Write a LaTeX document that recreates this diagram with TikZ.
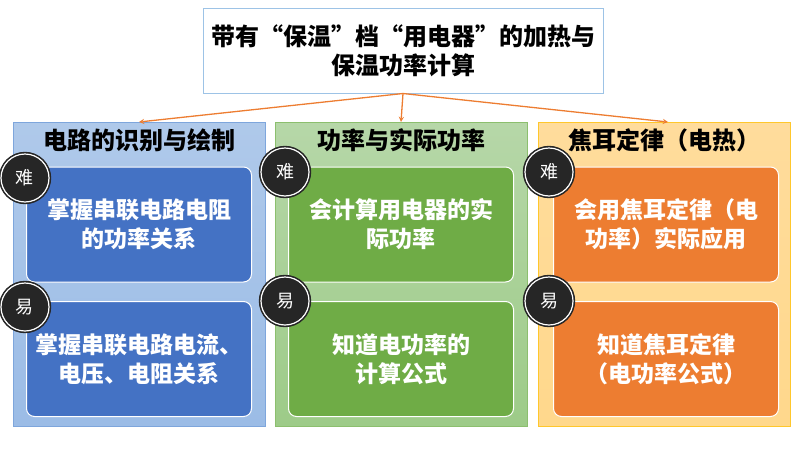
\documentclass[tikz,border=0pt]{standalone}
\usepackage{fontspec}
\setmainfont{Noto Sans CJK SC}
\usepackage{tikz}
\definecolor{arroworange}{HTML}{ED7D31}
\definecolor{topline}{HTML}{9DC3E6}
\definecolor{bluelight}{HTML}{AFC9EA}
\definecolor{bluelow}{HTML}{9BBCE6}
\definecolor{blueline}{HTML}{7EA6DC}
\definecolor{bluedark}{HTML}{4472C4}
\definecolor{greenlight}{HTML}{B6D7A8}
\definecolor{greenlow}{HTML}{9DCB88}
\definecolor{greenline}{HTML}{8CBF6E}
\definecolor{greendark}{HTML}{6FAC46}
\definecolor{orangelight}{HTML}{FFDC9C}
\definecolor{orangelow}{HTML}{FFD88C}
\definecolor{orangeline}{HTML}{FFC72C}
\definecolor{orangedark}{HTML}{ED7D31}
\definecolor{badgegray}{HTML}{262626}
\tikzset{
    topbox/.style = {
        rectangle,
        draw=topline,
        fill=white,
        line width=1pt,
        minimum width=400,
        minimum height=85,
        align=center,
        font=\fontsize{24}{29}\selectfont\bfseries,
    },
    panel/.style = {
        rectangle,
        anchor=north,
        line width=1pt,
        minimum width=252,
        minimum height=304,
    },
    paneltitle/.style = {
        anchor=north,
        inner sep=6pt,
        font=\fontsize{24}{26}\selectfont\bfseries,
    },
    item/.style = {
        rectangle,
        rounded corners=8,
        draw=white,
        line width=1pt,
        minimum width=225,
        minimum height=115,
        align=center,
        text=white,
        font=\fontsize{23}{29}\selectfont\bfseries,
    },
    badge/.style = {
        circle,
        fill=badgegray,
        draw=badgegray,
        double=white,
        double distance=1.2pt,
        line width=1.6pt,
        minimum size=48,
        inner sep=0pt,
        text=white,
        font=\fontsize{18}{18}\selectfont,
    },
    arrow/.style = {->, >=stealth, draw=arroworange, line width=1.3pt}
}
\begin{document}
\begin{tikzpicture}[x=1pt, y=-1pt]
  \useasboundingbox (0,0) rectangle (800,450);

  % Top node
  \node[topbox] (top) at (403,50.5) {带有“保温”档“用电器”的加热与\\保温功率计算};

  % Three panels
  \node[panel, draw=blueline, top color=bluelight, bottom color=bluelow] (pl) at (139,122) {};
  \node[panel, draw=greenline, top color=greenlight, bottom color=greenlow] (pm) at (401,122) {};
  \node[panel, draw=orangeline, top color=orangelight, bottom color=orangelow] (pr) at (664,122) {};

  \node[paneltitle] (tl) at (pl.north) {电路的识别与绘制};
  \node[paneltitle] (tm) at (pm.north) {功率与实际功率};
  \node[paneltitle] (tr) at (pr.north) {焦耳定律（电热）};

  % Items, hard (upper) and easy (lower)
  \node[item, fill=bluedark] (l1) at (139,224.5) {掌握串联电路电阻\\的功率关系};
  \node[item, fill=bluedark] (l2) at (139,359) {掌握串联电路电流、\\电压、电阻关系};
  \node[item, fill=greendark] (m1) at (401,224.5) {会计算用电器的实\\际功率};
  \node[item, fill=greendark] (m2) at (401,359) {知道电功率的\\计算公式};
  \node[item, fill=orangedark] (r1) at (666,224.5) {会用焦耳定律（电\\功率）实际应用};
  \node[item, fill=orangedark] (r2) at (666,359) {知道焦耳定律\\（电功率公式）};

  % Badges
  \node[badge] (bl1) at (25,178) {难};
  \node[badge] (bl2) at (25,307) {易};
  \node[badge] (bm1) at (285,172) {难};
  \node[badge] (bm2) at (285,301) {易};
  \node[badge] (br1) at (549,172) {难};
  \node[badge] (br2) at (549,301) {易};

  % Arrows from the top node
  \draw[arrow] (top.south) -- (pl.north);
  \draw[arrow] (top.south) -- (pm.north);
  \draw[arrow] (top.south) -- ([xshift=4]pr.north);
\end{tikzpicture}
\end{document}
